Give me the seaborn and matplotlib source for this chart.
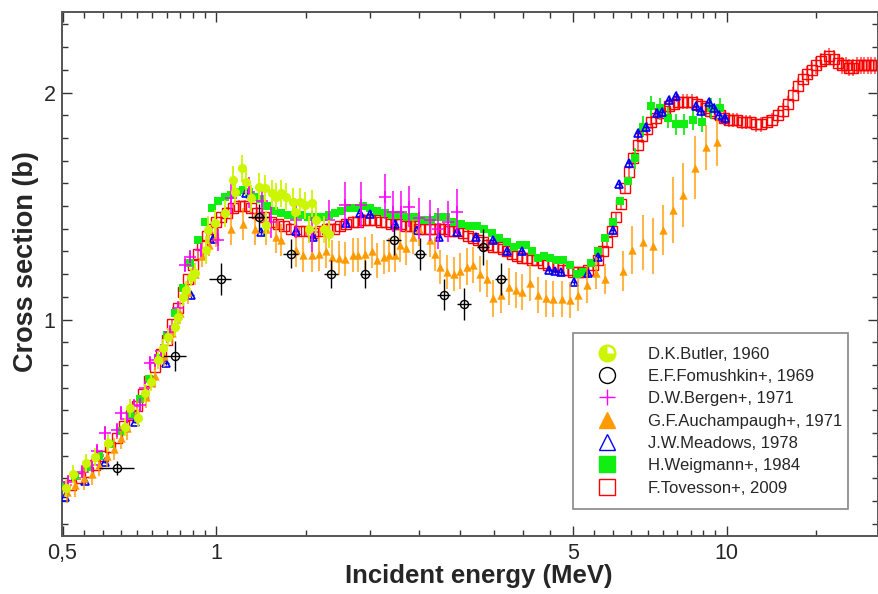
import numpy as np
import matplotlib
matplotlib.use('Agg')
import matplotlib.pyplot as plt
import seaborn as sns
from matplotlib import font_manager
from matplotlib.lines import Line2D
from matplotlib.path import Path
from matplotlib.legend_handler import HandlerTuple
from matplotlib.ticker import FixedLocator, NullFormatter

# ---- data (energy in MeV, cross section in b) ----
# F.Tovesson+, 2009
tov_e = [0.50, 0.52, 0.54, 0.56, 0.58, 0.60, 0.62, 0.64, 0.66, 0.68,
         0.70, 0.72, 0.74, 0.76, 0.78, 0.80, 0.82, 0.84, 0.86, 0.88,
         0.90, 0.92, 0.94, 0.96, 0.98, 1.00, 1.02, 1.05, 1.08, 1.11,
         1.14, 1.17, 1.20, 1.24, 1.28, 1.32, 1.36, 1.40, 1.45, 1.50,
         1.55, 1.60, 1.65, 1.70, 1.75, 1.80, 1.85, 1.90, 1.95, 2.00,
         2.05, 2.10, 2.15, 2.20, 2.25, 2.30, 2.35, 2.40, 2.45, 2.50,
         2.56, 2.62, 2.68, 2.74, 2.80, 2.86, 2.92, 2.98, 3.05, 3.12,
         3.19, 3.26, 3.33, 3.40, 3.48, 3.56, 3.64, 3.72, 3.80, 3.89,
         3.98, 4.07, 4.16, 4.26, 4.36, 4.46, 4.56, 4.67, 4.78, 4.89,
         5.00, 5.12, 5.24, 5.36, 5.48, 5.60, 5.72, 5.84, 5.96, 6.08,
         6.20, 6.32, 6.44, 6.56, 6.70, 6.84, 6.98, 7.12, 7.26, 7.40,
         7.56, 7.72, 7.88, 8.04, 8.20, 8.38, 8.56, 8.74, 8.92, 9.10,
         9.30, 9.50, 9.70, 9.90, 10.1, 10.3, 10.5, 10.7, 10.9, 11.1,
         11.4, 11.7, 12.0, 12.3, 12.6, 12.9, 13.2, 13.5, 13.8, 14.1,
         14.4, 14.7, 15.0, 15.3, 15.6, 15.9, 16.2, 16.5, 16.8, 17.1,
         17.4, 17.7, 18.0, 18.3, 18.6, 18.9, 19.2, 19.5]
tov_xs = [0.25, 0.27, 0.30, 0.33, 0.36, 0.40, 0.44, 0.48, 0.53, 0.58,
          0.62, 0.67, 0.73, 0.79, 0.85, 0.91, 0.98, 1.05, 1.12, 1.18,
          1.24, 1.29, 1.33, 1.37, 1.40, 1.43, 1.45, 1.47, 1.49, 1.50,
          1.50, 1.49, 1.47, 1.45, 1.43, 1.42, 1.41, 1.40, 1.39, 1.39,
          1.38, 1.39, 1.40, 1.40, 1.41, 1.42, 1.43, 1.43, 1.44, 1.44,
          1.44, 1.43, 1.43, 1.42, 1.42, 1.42, 1.41, 1.41, 1.41, 1.40,
          1.40, 1.40, 1.40, 1.40, 1.40, 1.39, 1.39, 1.39, 1.38, 1.37,
          1.36, 1.35, 1.34, 1.33, 1.32, 1.32, 1.31, 1.30, 1.29, 1.28,
          1.27, 1.27, 1.26, 1.26, 1.25, 1.24, 1.24, 1.23, 1.22, 1.22,
          1.21, 1.21, 1.21, 1.22, 1.24, 1.26, 1.30, 1.34, 1.39, 1.45,
          1.51, 1.58, 1.65, 1.71, 1.77, 1.81, 1.84, 1.87, 1.89, 1.91,
          1.92, 1.94, 1.95, 1.96, 1.96, 1.96, 1.96, 1.95, 1.94, 1.93,
          1.92, 1.91, 1.90, 1.89, 1.88, 1.88, 1.88, 1.87, 1.87, 1.87,
          1.86, 1.86, 1.87, 1.88, 1.90, 1.92, 1.95, 1.99, 2.03, 2.06,
          2.08, 2.10, 2.12, 2.14, 2.15, 2.16, 2.15, 2.13, 2.12, 2.12,
          2.11, 2.11, 2.12, 2.12, 2.12, 2.12, 2.12, 2.12]
tov_rel_err = 0.017

# H.Weigmann+, 1984
wei_e = [0.50, 0.53, 0.56, 0.59, 0.62, 0.65, 0.68, 0.71, 0.74, 0.77,
         0.80, 0.83, 0.86, 0.89, 0.92, 0.95, 0.98, 1.01, 1.04, 1.07,
         1.10, 1.13, 1.16, 1.19, 1.22, 1.26, 1.30, 1.34, 1.38, 1.42,
         1.46, 1.51, 1.56, 1.61, 1.66, 1.71, 1.76, 1.82, 1.88, 1.94,
         2.00, 2.07, 2.14, 2.21, 2.29, 2.37, 2.45, 2.54, 2.63, 2.72,
         2.82, 2.92, 3.02, 3.13, 3.24, 3.35, 3.47, 3.59, 3.72, 3.83,
         3.93, 4.04, 4.15, 4.27, 4.38, 4.51, 4.65, 4.79, 4.94, 5.10,
         5.24, 5.42, 5.60, 5.78, 5.98, 6.18, 6.40, 6.63, 6.85, 7.11,
         7.39, 7.67, 7.96, 8.26, 8.61, 8.96, 9.34, 9.72]
wei_xs = [0.27, 0.31, 0.35, 0.40, 0.45, 0.51, 0.58, 0.65, 0.74, 0.83,
          0.93, 1.03, 1.14, 1.25, 1.35, 1.43, 1.49, 1.52, 1.54, 1.55,
          1.56, 1.57, 1.56, 1.54, 1.53, 1.50, 1.48, 1.47, 1.46, 1.46,
          1.46, 1.45, 1.45, 1.45, 1.46, 1.47, 1.48, 1.49, 1.49, 1.50,
          1.49, 1.48, 1.47, 1.46, 1.46, 1.45, 1.45, 1.44, 1.44, 1.45,
          1.45, 1.43, 1.42, 1.41, 1.41, 1.40, 1.38, 1.36, 1.34, 1.32,
          1.33, 1.33, 1.30, 1.27, 1.28, 1.27, 1.26, 1.26, 1.24, 1.20,
          1.21, 1.25, 1.30, 1.36, 1.43, 1.52, 1.61, 1.71, 1.85, 1.94,
          1.93, 1.89, 1.86, 1.86, 1.88, 1.87, 1.93, 1.93]
wei_err_low, wei_err_high = 0.01, 0.045

# J.W.Meadows, 1978
mea_e = [0.505, 0.553, 0.605, 0.693, 0.799, 0.894, 0.986, 1.146, 1.226, 1.435,
         1.546, 1.80, 1.91, 2.00, 2.24, 2.47, 2.73, 2.97, 3.23, 3.48,
         3.72, 3.97, 4.49, 4.62, 4.74, 5.03, 5.34, 5.61, 5.98, 6.15,
         6.43, 6.70, 6.95, 7.30, 7.47, 7.71, 7.96, 8.71, 8.93, 9.22,
         9.44, 9.66, 9.95]
mea_xs = [0.22, 0.29, 0.37, 0.55, 0.81, 1.108, 1.353, 1.556, 1.387, 1.39,
          1.365, 1.424, 1.468, 1.465, 1.42, 1.394, 1.365, 1.387, 1.365, 1.35,
          1.30, 1.30, 1.218, 1.215, 1.21, 1.164, 1.203, 1.277, 1.394, 1.596,
          1.688, 1.823, 1.85, 1.911, 1.915, 1.967, 1.985, 1.94, 1.918, 1.957,
          1.93, 1.90, 1.886]
mea_rel_err = 0.012

# G.F.Auchampaugh+, 1971
auc_e = [0.51, 0.53, 0.55, 0.57, 0.59, 0.61, 0.63, 0.65, 0.67, 0.70,
         0.73, 0.76, 0.79, 0.82, 0.85, 0.88, 0.91, 0.94, 0.97, 1.00,
         1.07, 1.13, 1.19, 1.25, 1.31, 1.34,
         1.435, 1.48, 1.54, 1.59, 1.64, 1.69, 1.74, 1.79, 1.85, 1.90,
         1.96, 2.02, 2.07, 2.13, 2.18, 2.24, 2.29, 2.35, 2.43, 2.50,
         2.62, 2.68, 2.75, 2.83, 2.92,
         3.00, 3.10, 3.19, 3.29, 3.39, 3.49, 3.61, 3.74, 3.86, 3.98,
         4.12, 4.28, 4.43, 4.58, 4.76, 4.94,
         5.12, 5.32, 5.54, 5.77, 6.26, 6.54, 6.85, 7.17, 7.50, 7.85,
         8.23, 8.66, 9.10, 9.59]
auc_xs = [0.24, 0.27, 0.30, 0.32, 0.36, 0.40, 0.43, 0.48, 0.52, 0.59,
          0.66, 0.75, 0.84, 0.94, 1.03, 1.12, 1.20, 1.28, 1.33, 1.37,
          1.397, 1.42, 1.40, 1.40, 1.365, 1.35,
          1.306, 1.284, 1.284, 1.29, 1.30, 1.274, 1.27, 1.265, 1.284, 1.284,
          1.29, 1.30, 1.26, 1.274, 1.284, 1.284, 1.328, 1.314, 1.365, 1.40,
          1.35, 1.29, 1.23, 1.21, 1.20,
          1.215, 1.233, 1.24, 1.20, 1.18, 1.093, 1.108, 1.145, 1.13, 1.122,
          1.162, 1.108, 1.093, 1.089, 1.089, 1.086,
          1.108, 1.152, 1.206, 1.178, 1.214, 1.306, 1.34, 1.324, 1.394, 1.482,
          1.548, 1.669, 1.758, 1.783]
auc_err = ([0.05] * 20 + [0.07] * 6 + [0.075] * 25 + [0.08] * 16 +
           [0.07, 0.08, 0.07, 0.066, 0.09, 0.107, 0.12, 0.125, 0.11, 0.147,
            0.14, 0.14, 0.10, 0.105])

# D.W.Bergen+, 1971
ber_e = [0.505, 0.513, 0.545, 0.57, 0.585, 0.605, 0.638, 0.652, 0.67, 0.69,
         0.708, 0.725, 0.741, 0.758, 0.78, 0.811, 0.84, 0.868, 0.887, 0.935,
         1.008, 1.07, 1.16, 1.23, 1.28,
         1.435, 1.54, 1.66, 1.79, 1.92, 2.14, 2.22, 2.30, 2.39, 2.50,
         2.62, 2.72, 2.84, 2.97]
ber_xs = [0.26, 0.285, 0.33, 0.36, 0.42, 0.50, 0.513, 0.587, 0.56, 0.62,
          0.623, 0.70, 0.807, 0.82, 0.86, 0.946, 1.05, 1.24, 1.277, 1.306,
          1.35, 1.534, 1.56, 1.52, 1.43,
          1.438, 1.387, 1.438, 1.504, 1.504, 1.541, 1.475, 1.475, 1.497, 1.446,
          1.438, 1.40, 1.43, 1.475]
ber_err = ([0.03] * 20 + [0.05, 0.07, 0.07, 0.07, 0.07] +
           [0.08, 0.09, 0.09, 0.1, 0.1, 0.1, 0.09, 0.09, 0.09, 0.09,
            0.09, 0.09, 0.09, 0.1])

# E.F.Fomushkin+, 1969
fom_e = [0.639, 0.829, 1.02, 1.211, 1.399, 1.68, 1.96, 2.23, 2.51, 2.79, 3.06, 3.34, 3.62]
fom_xs = [0.345, 0.84, 1.18, 1.45, 1.29, 1.20, 1.20, 1.35, 1.29, 1.11, 1.07, 1.32, 1.18]
fom_xerr = [0.05, 0.045, 0.05, 0.055, 0.05, 0.05, 0.05, 0.075, 0.07, 0.08, 0.09, 0.09, 0.1]
fom_yerr = [0.03, 0.065, 0.07, 0.06, 0.065, 0.06, 0.06, 0.065, 0.07, 0.07, 0.07, 0.08, 0.07]

# D.K.Butler, 1960
but_e = [0.509, 0.525, 0.557, 0.578, 0.614, 0.662, 0.677, 0.703, 0.725, 0.747,
         0.769, 0.787, 0.805, 0.83, 0.842, 0.861, 0.874, 0.894, 0.908, 0.957,
         0.964, 0.996, 1.039, 1.079, 1.087, 1.125, 1.146, 1.172, 1.211, 1.248,
         1.25, 1.286, 1.311, 1.341, 1.372, 1.413, 1.424, 1.457, 1.49, 1.54,
         1.52, 1.57, 1.63, 1.66]
but_xs = [0.256, 0.32, 0.366, 0.395, 0.455, 0.528, 0.609, 0.565, 0.675, 0.726,
          0.822, 0.873, 0.924, 0.968, 1.012, 1.10, 1.13, 1.189, 1.204, 1.306,
          1.394, 1.424, 1.468, 1.615, 1.563, 1.666, 1.607, 1.534, 1.585, 1.578,
          1.416, 1.556, 1.541, 1.556, 1.541, 1.519, 1.475, 1.519, 1.504, 1.512,
          1.397, 1.438, 1.397, 1.377]
but_err_low, but_err_high = 0.04, 0.06

x_major = [0.5, 1, 5, 10]
x_major_labels = ['0,5', '1', '5', '10']
y_major = [1, 2]
y_major_labels = ['1', '2']

BUTLER = '#ccf500'
BLACK = '#000000'
MAGENTA = '#ff00ff'
ORANGE = '#ff9a00'
BLUE = '#0000ff'
GREEN = '#11ee11'
RED = '#ff0000'

sns.set_style('ticks')
plt.rcParams['font.family'] = ['Liberation Sans', 'DejaVu Sans']

names = {f.name for f in font_manager.fontManager.ttflist}
if 'Liberation Sans Narrow' in names:
    tick_font = dict(family='Liberation Sans Narrow', size=16.5)
else:
    tick_font = dict(family='Liberation Sans', size=15.5)

fig = plt.figure(figsize=(8.79, 5.94), dpi=100)
ax = fig.add_axes([62.5 / 879, 58 / 594, 815.5 / 879, 524 / 594])
ax.set_xscale('log')
ax.set_xlim(0.5, 19.8)
ax.set_ylim(0.046, 2.355)

# Tovesson (open red squares)
tov_e_a = np.array(tov_e)
tov_xs_a = np.array(tov_xs)
ax.errorbar(tov_e_a, tov_xs_a, yerr=tov_rel_err * tov_xs_a, fmt='none',
            ecolor=(1, 0, 0, 0.55), elinewidth=1.5, zorder=2)
ax.plot(tov_e_a, tov_xs_a, ls='none', marker='s', ms=7, mfc='none',
        mec=RED, mew=1.0, zorder=2.5)

# Weigmann (filled green squares)
wei_e_a = np.array(wei_e)
ax.errorbar(wei_e_a, wei_xs, yerr=np.where(wei_e_a > 6.5, wei_err_high, wei_err_low),
            fmt='none', ecolor=GREEN, elinewidth=1.3, zorder=3)
sns.scatterplot(x=wei_e, y=wei_xs, marker='s', s=5.2 ** 2, color=GREEN,
                edgecolor=GREEN, linewidth=0, ax=ax, zorder=3.5)

# Meadows (open blue triangles)
mea_e_a = np.array(mea_e)
mea_xs_a = np.array(mea_xs)
ax.errorbar(mea_e_a, mea_xs_a, xerr=mea_rel_err * mea_e_a, yerr=mea_rel_err * mea_xs_a,
            fmt='none', ecolor=BLUE, elinewidth=1.0, zorder=4)
ax.plot(mea_e_a, mea_xs_a, ls='none', marker='^', ms=5.6, mfc='none',
        mec=BLUE, mew=1.2, zorder=4.5)

# Auchampaugh (filled orange triangles)
ax.errorbar(auc_e, auc_xs, yerr=auc_err, fmt='none',
            ecolor=(1.0, 0.6, 0.0, 0.7), elinewidth=1.5, zorder=5)
sns.scatterplot(x=auc_e, y=auc_xs, marker='^', s=6 ** 2, color=ORANGE,
                edgecolor=ORANGE, linewidth=0, ax=ax, zorder=5.5)

# Bergen (magenta plus)
ax.errorbar(ber_e, ber_xs, yerr=ber_err, fmt='none', ecolor=MAGENTA,
            elinewidth=1.1, zorder=6)
ax.plot(ber_e, ber_xs, ls='none', marker='+', ms=9, mec=MAGENTA,
        mew=1.1, zorder=6.5)

# Fomushkin (open black circles)
ax.errorbar(fom_e, fom_xs, xerr=fom_xerr, yerr=fom_yerr, fmt='none',
            ecolor=BLACK, elinewidth=1.0, zorder=7)
ax.plot(fom_e, fom_xs, ls='none', marker='o', ms=5.8, mfc='none',
        mec=BLACK, mew=1.0, zorder=7.5)

# Butler (filled yellow-green circles)
but_e_a = np.array(but_e)
ax.errorbar(but_e_a, but_xs, yerr=np.where(but_e_a > 0.95, but_err_high, but_err_low),
            fmt='none', ecolor=BUTLER, elinewidth=1.3, zorder=8)
sns.scatterplot(x=but_e, y=but_xs, marker='o', s=6.6 ** 2, color=BUTLER,
                edgecolor=BUTLER, linewidth=0, ax=ax, zorder=8.5)

# axes, ticks
ax.xaxis.set_major_locator(FixedLocator(x_major))
ax.set_xticklabels(x_major_labels, **tick_font)
x_minor = ([0.55, 0.6, 0.65, 0.7, 0.75, 0.8, 0.85, 0.9, 0.95] +
           [1.5, 2, 2.5, 3, 3.5, 4, 4.5] +
           [5.5, 6, 6.5, 7, 7.5, 8, 8.5, 9, 9.5] + [15])
ax.xaxis.set_minor_locator(FixedLocator(x_minor))
ax.xaxis.set_minor_formatter(NullFormatter())
ax.yaxis.set_major_locator(FixedLocator(y_major))
ax.set_yticklabels(y_major_labels, **tick_font)
ax.yaxis.set_minor_locator(FixedLocator(np.arange(0.1, 2.35, 0.1)))
ax.yaxis.set_minor_formatter(NullFormatter())
ax.tick_params(which='both', direction='in', top=True, right=True,
               color='#333333', width=1.0)
ax.tick_params(which='major', length=7, pad=5)
ax.tick_params(which='minor', length=4)
for sp in ax.spines.values():
    sp.set_color('#555555')
    sp.set_linewidth(1.4)
    sp.set_visible(True)

ax.set_xlabel('Incident energy (MeV)', fontsize=18.5, fontweight='bold')
ax.xaxis.set_label_coords(0.51, -0.053)
ax.set_ylabel('Cross section (b)', fontsize=19.5, fontweight='bold')
ax.yaxis.set_label_coords(-0.029, 0.523)

# legend
wedge = Path.wedge(0, 90)
h_butler = (Line2D([], [], ls='none', marker='o', ms=12, mfc=BUTLER, mec=BUTLER),
            Line2D([], [], ls='none', marker=wedge, ms=9.5, mfc='white', mec='none'))
handles = [
    h_butler,
    Line2D([], [], ls='none', marker='o', ms=11.5, mfc='none', mec=BLACK, mew=1.0),
    Line2D([], [], ls='none', marker='+', ms=11, mec=MAGENTA, mew=1.0),
    Line2D([], [], ls='none', marker='^', ms=12, mfc=ORANGE, mec=ORANGE),
    Line2D([], [], ls='none', marker='^', ms=12, mfc='none', mec=BLUE, mew=1.0),
    Line2D([], [], ls='none', marker='s', ms=12, mfc=GREEN, mec=GREEN),
    Line2D([], [], ls='none', marker='s', ms=11.5, mfc='none', mec=RED, mew=1.0),
]
labels = ['D.K.Butler, 1960', 'E.F.Fomushkin+, 1969', 'D.W.Bergen+, 1971',
          'G.F.Auchampaugh+, 1971', 'J.W.Meadows, 1978', 'H.Weigmann+, 1984',
          'F.Tovesson+, 2009']
leg = ax.legend(handles, labels, handler_map={tuple: HandlerTuple(ndivide=1, pad=0)},
                loc='upper left', bbox_to_anchor=(0.626, 0.051, 0.337, 0.336),
                mode='expand', frameon=True, fancybox=False, framealpha=1,
                edgecolor='#888888', prop=dict(family='Liberation Sans', size=12),
                borderpad=0.8, handlelength=2.48, handletextpad=1.22,
                labelspacing=0.44, borderaxespad=0, numpoints=1)
leg.get_frame().set_linewidth(1.2)
leg.set_zorder(20)

fig.savefig('out.png', dpi=100)
